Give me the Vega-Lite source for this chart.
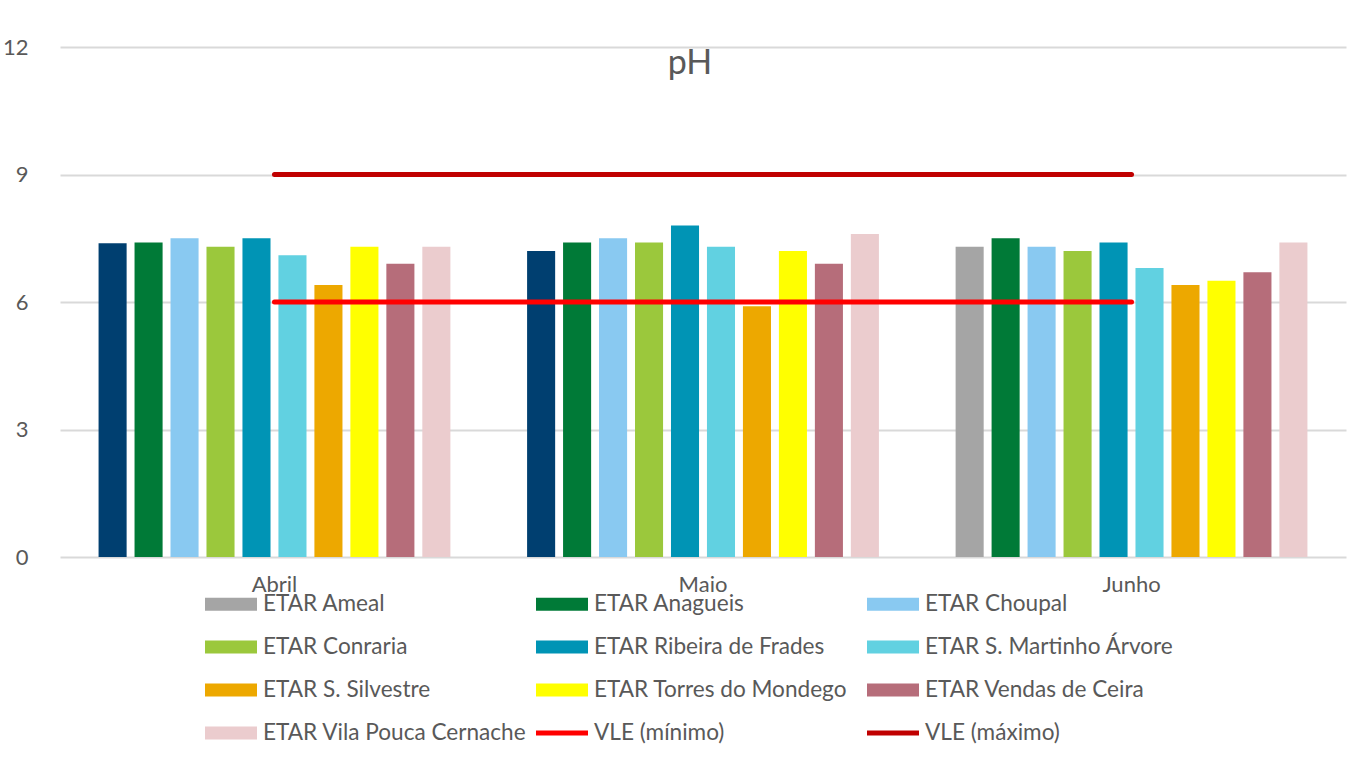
{
  "$schema": "https://vega.github.io/schema/vega-lite/v6.json",
  "autosize": {"type": "none"},
  "width": 1286,
  "height": 510,
  "padding": {"left": 60, "top": 47, "right": 4, "bottom": 203},
  "background": "white",
  "config": {"font": "Lato", "view": {"stroke": null}},
  "title": {"text": "pH", "fontSize": 34, "fontWeight": "normal", "color": "#595959", "anchor": "middle", "offset": -45, "dx": -13},
  "datasets": {
    "bars": [
      {"mes": "Abril", "serie": "ETAR Ameal", "valor": 7.38},
      {"mes": "Abril", "serie": "ETAR Anagueis", "valor": 7.4},
      {"mes": "Abril", "serie": "ETAR Choupal", "valor": 7.5},
      {"mes": "Abril", "serie": "ETAR Conraria", "valor": 7.3},
      {"mes": "Abril", "serie": "ETAR Ribeira de Frades", "valor": 7.5},
      {"mes": "Abril", "serie": "ETAR S. Martinho Árvore", "valor": 7.1},
      {"mes": "Abril", "serie": "ETAR S. Silvestre", "valor": 6.4},
      {"mes": "Abril", "serie": "ETAR Torres do Mondego", "valor": 7.3},
      {"mes": "Abril", "serie": "ETAR Vendas de Ceira", "valor": 6.9},
      {"mes": "Abril", "serie": "ETAR Vila Pouca Cernache", "valor": 7.3},
      {"mes": "Maio", "serie": "ETAR Ameal", "valor": 7.2},
      {"mes": "Maio", "serie": "ETAR Anagueis", "valor": 7.4},
      {"mes": "Maio", "serie": "ETAR Choupal", "valor": 7.5},
      {"mes": "Maio", "serie": "ETAR Conraria", "valor": 7.4},
      {"mes": "Maio", "serie": "ETAR Ribeira de Frades", "valor": 7.8},
      {"mes": "Maio", "serie": "ETAR S. Martinho Árvore", "valor": 7.3},
      {"mes": "Maio", "serie": "ETAR S. Silvestre", "valor": 5.9},
      {"mes": "Maio", "serie": "ETAR Torres do Mondego", "valor": 7.2},
      {"mes": "Maio", "serie": "ETAR Vendas de Ceira", "valor": 6.9},
      {"mes": "Maio", "serie": "ETAR Vila Pouca Cernache", "valor": 7.6},
      {"mes": "Junho", "serie": "ETAR Ameal", "valor": 7.3},
      {"mes": "Junho", "serie": "ETAR Anagueis", "valor": 7.5},
      {"mes": "Junho", "serie": "ETAR Choupal", "valor": 7.3},
      {"mes": "Junho", "serie": "ETAR Conraria", "valor": 7.2},
      {"mes": "Junho", "serie": "ETAR Ribeira de Frades", "valor": 7.4},
      {"mes": "Junho", "serie": "ETAR S. Martinho Árvore", "valor": 6.8},
      {"mes": "Junho", "serie": "ETAR S. Silvestre", "valor": 6.4},
      {"mes": "Junho", "serie": "ETAR Torres do Mondego", "valor": 6.5},
      {"mes": "Junho", "serie": "ETAR Vendas de Ceira", "valor": 6.7},
      {"mes": "Junho", "serie": "ETAR Vila Pouca Cernache", "valor": 7.4}
    ],
    "vle": [
      {"mes": "Abril", "serie": "VLE (mínimo)", "valor": 6},
      {"mes": "Maio", "serie": "VLE (mínimo)", "valor": 6},
      {"mes": "Junho", "serie": "VLE (mínimo)", "valor": 6},
      {"mes": "Abril", "serie": "VLE (máximo)", "valor": 9},
      {"mes": "Maio", "serie": "VLE (máximo)", "valor": 9},
      {"mes": "Junho", "serie": "VLE (máximo)", "valor": 9}
    ]
  },
  "encoding": {
    "x": {
      "field": "mes", "type": "nominal",
      "scale": {"domain": ["Abril", "Maio", "Junho"], "paddingInner": 0.179, "paddingOuter": 0.09},
      "axis": {"title": null, "labelAngle": 0, "labelFontSize": 22, "labelColor": "#595959", "ticks": false, "domain": false, "labelPadding": 17, "grid": false}
    },
    "y": {
      "field": "valor", "type": "quantitative",
      "scale": {"domain": [0, 12], "nice": false},
      "axis": {"title": null, "values": [0, 3, 6, 9, 12], "labelFontSize": 22, "labelColor": "#595959", "ticks": false, "domain": false, "labelPadding": 32, "gridColor": "#D9D9D9", "gridWidth": 1.8}
    }
  },
  "layer": [
    {
      "data": {"name": "bars"},
      "mark": {"type": "bar"},
      "encoding": {
        "xOffset": {
          "field": "serie", "type": "nominal",
          "scale": {"domain": ["ETAR Ameal", "ETAR Anagueis", "ETAR Choupal", "ETAR Conraria", "ETAR Ribeira de Frades", "ETAR S. Martinho Árvore", "ETAR S. Silvestre", "ETAR Torres do Mondego", "ETAR Vendas de Ceira", "ETAR Vila Pouca Cernache"], "paddingInner": 0.22, "paddingOuter": 0}
        },
        "color": {
          "condition": {"test": "datum.serie == 'ETAR Ameal' && datum.mes != 'Junho'", "value": "#003F70"},
          "field": "serie", "type": "nominal",
          "scale": {
            "domain": ["ETAR Ameal", "ETAR Anagueis", "ETAR Choupal", "ETAR Conraria", "ETAR Ribeira de Frades", "ETAR S. Martinho Árvore", "ETAR S. Silvestre", "ETAR Torres do Mondego", "ETAR Vendas de Ceira", "ETAR Vila Pouca Cernache", "VLE (mínimo)", "VLE (máximo)"],
            "range": ["#A5A5A5", "#007A37", "#89C9F1", "#9BC83C", "#0094B5", "#61D1E1", "#EDA800", "#FFFF00", "#B66D7A", "#EBCCCE", "#FF0000", "#C00000"]
          },
          "legend": {
            "title": null, "orient": "none", "legendX": 145, "legendY": 531,
            "direction": "horizontal", "columns": 3, "gridAlign": "all",
            "labelFontSize": 22.6, "labelColor": "#595959", "labelLimit": 400, "labelOffset": 6,
            "symbolSize": 2704, "rowPadding": 5, "columnPadding": 9,
            "encode": {
              "symbols": {
                "update": {
                  "shape": [{"test": "indexof(datum.value, 'VLE') == 0", "value": "M-1,-0.1H1V0.1H-1Z"}, {"value": "M-1,-0.25H1V0.25H-1Z"}],
                  "fill": {"scale": "color", "field": "value"},
                  "fillOpacity": {"value": 1},
                  "strokeWidth": {"value": 0}
                }
              }
            }
          }
        }
      }
    },
    {
      "data": {"name": "vle"},
      "mark": {"type": "line", "strokeWidth": 5, "strokeCap": "round"},
      "encoding": {
        "color": {"field": "serie", "type": "nominal"}
      }
    }
  ]
}
